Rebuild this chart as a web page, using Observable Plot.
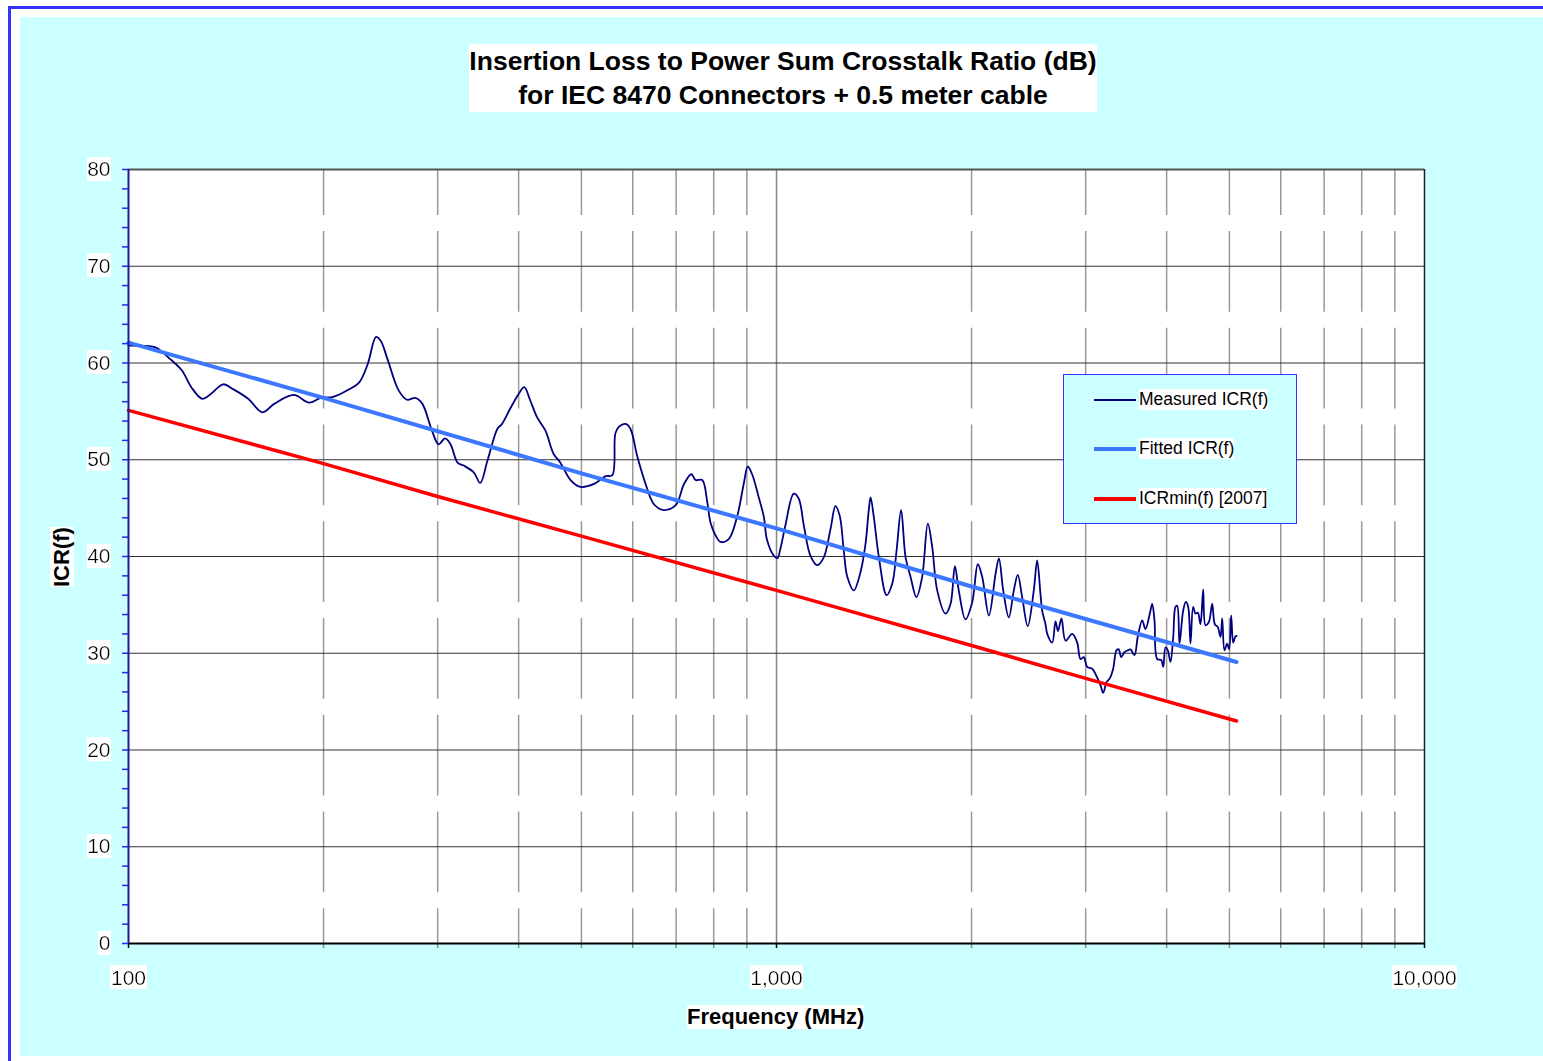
<!DOCTYPE html>
<html><head><meta charset="utf-8">
<script src="https://cdn.jsdelivr.net/npm/d3@7"></script>
<script src="https://cdn.jsdelivr.net/npm/@observablehq/plot@0.6"></script>
<style>
body{margin:0;background:#fff;font-family:"Liberation Sans",Arial,sans-serif;}
#wrap{position:relative;width:1543px;height:1061px;overflow:hidden;background:#fff;}
#border{position:absolute;left:8px;top:6px;width:1700px;height:1200px;border:3px solid #3333ff;box-sizing:border-box;}
#bgc{position:absolute;left:20px;top:17px;width:1700px;height:1039px;background:#ccffff;}
#title{position:absolute;left:469px;top:44px;width:628px;height:68px;background:#fff;text-align:center;font-weight:bold;font-size:26.5px;line-height:34px;color:#000;}
#chart{position:absolute;left:0;top:0;}
.axt{position:absolute;background:#fff;font-weight:bold;font-size:22px;line-height:24px;white-space:nowrap;color:#000;}
#legend{position:absolute;left:1063px;top:374px;width:234px;height:150px;background:#ccffff;border:1.5px solid #3333ff;box-sizing:border-box;}
.lg{position:absolute;left:0;width:100%;height:24px;}
.lg .sw{position:absolute;left:30px;width:42px;top:50%;}
.lg .tx{position:absolute;left:75px;top:1px;font-size:17.5px;line-height:21px;background:#fff;white-space:nowrap;color:#000;}
</style></head>
<body>
<div id="wrap">
  <div id="border"></div>
  <div id="bgc"></div>
  <div id="chart"></div>
  <div id="title">Insertion Loss to Power Sum Crosstalk Ratio (dB)<br>for IEC 8470 Connectors + 0.5 meter cable</div>
  <div class="axt" id="ylab" style="left:32px;top:545px;transform:rotate(-90deg);transform-origin:30px 12px;">ICR(f)</div>
  <div class="axt" id="xlab" style="left:687px;top:1005px;">Frequency (MHz)</div>
  <div id="legend"></div>
</div>
<script>
// ---- data ----
const freqMeasured = [100,109,111,116,121,125,130,134,140,145,153,161,168,180,190,198,207,218,227,234,241,245,251,261,269,277,284,294,301,308,314,322,329,341,349,358,371,377,389,400,408,417,427,440,453,464,481,498,523,545,558,564,571,585,595,610,628,647,670,699,720,739,750,768,782,791,805,820,844,870,890,903,917,939,956,967,990,1003,1014,1032,1063,1082,1102,1128,1156,1183,1212,1233,1252,1270,1286,1316,1348,1372,1388,1397,1413,1439,1479,1509,1532,1557,1582,1610,1644,1678,1712,1739,1770,1823,1856,1885,1911,1957,2005,2045,2077,2127,2178,2204,2238,2283,2324,2357,2394,2442,2495,2525,2555,2570,2601,2617,2664,2695,2719,2753,2793,2860,2911,2945,2980,3016,3070,3125,3162,3193,3230,3268,3308,3347,3374,3403,3443,3484,3518,3568,3610,3667,3710,3768,3800,3831,3868,3924,3952,3984,4017,4055,4095,4128,4153,4187,4242,4282,4318,4354,4395,4432,4469,4511,4555,4592,4646,4703,4747,4797,4844,4873,4913,4960,4996,5031,5067,5104,5128];
const icrMeasured = [61.8,61.7,61.5,60.4,59.2,57.5,56.3,56.8,57.8,57.3,56.3,54.9,55.8,56.7,55.9,56.4,56.5,57.2,58.0,59.9,62.7,62.3,60.4,57.2,56.2,56.4,55.8,53.0,51.6,52.2,51.6,49.7,49.4,48.7,47.6,49.9,53.2,53.7,55.4,56.8,57.5,56.1,54.4,53.0,50.6,49.7,47.9,47.2,47.5,48.3,48.4,52.7,53.4,53.7,53.2,50.3,47.5,45.4,44.8,45.3,47.5,48.5,47.9,47.9,45.6,43.5,42.2,41.5,41.8,44.2,47.5,49.3,48.5,46.1,44.1,41.7,40.1,39.8,40.8,43.2,46.5,46.0,43.2,40.1,39.1,39.9,42.9,45.2,44.2,40.6,37.9,36.5,38.4,41.3,44.8,46.1,44.1,39.9,36.0,37.2,40.6,44.8,39.9,37.9,35.8,37.9,43.4,41.0,36.5,34.1,35.1,39.0,36.5,33.5,35.3,39.2,37.9,33.9,38.2,39.8,36.5,33.7,36.5,38.1,35.8,32.8,36.5,39.6,36.1,34.4,33.0,32.0,31.1,33.3,32.3,33.6,31.3,32.0,31.1,29.4,29.6,28.6,28.4,27.5,26.7,25.9,27.0,27.4,28.4,30.3,30.4,29.6,30.1,30.3,30.4,29.8,31.7,33.4,32.5,34.1,35.1,33.4,29.4,29.3,28.6,30.6,30.3,29.1,31.7,34.8,34.9,31.0,34.4,35.3,34.8,31.0,34.8,34.1,34.2,33.0,36.6,32.9,33.2,35.1,33.0,32.7,31.7,33.6,30.3,31.0,30.4,33.9,31.1,31.7,31.8];
const freqFitted = [100,200,500,1000,2000,5128];
const icrFitted  = [62.1,56.4,48.6,42.9,36.9,29.1];
const freqMin = [100,200,300,500,1000,2000,3000,5128];
const icrMin  = [55.1,49.6,46.2,42.1,36.5,30.8,27.4,23.0];
const seriesNames = ["Measured ICR(f)","Fitted ICR(f)","ICRmin(f) [2007]"];
const yMajorTicks = [0,10,20,30,40,50,60,70,80];
const yMinorTicks = [0,2,4,6,8,10,12,14,16,18,20,22,24,26,28,30,32,34,36,38,40,42,44,46,48,50,52,54,56,58,60,62,64,66,68,70,72,74,76,78,80];
const xMajorTicks = [100,1000,10000];
const xMinorTicks = [200,300,400,500,600,700,800,900,2000,3000,4000,5000,6000,7000,8000,9000];

const colors = ["#000080","#3b78ff","#ff0000"];
const widths = [1.8,4,3.5];

const measured = freqMeasured.map((f,i)=>({f, v: icrMeasured[i]}));
const fitted = freqFitted.map((f,i)=>({f, v: icrFitted[i]}));
const minimum = freqMin.map((f,i)=>({f, v: icrMin[i]}));

const chart = Plot.plot({
  width: 1543, height: 1061,
  marginLeft: 128, marginRight: 119, marginTop: 169, marginBottom: 118,
  style: {background: "transparent", fontFamily: "'Liberation Sans', Arial, sans-serif", fontSize: "21px", color: "#000", overflow: "visible"},
  x: {type: "log", domain: [100, 10000]},
  y: {domain: [0, 80]},
  marks: [
    Plot.frame({fill: "white", stroke: null}),
    Plot.ruleX(xMinorTicks, {stroke: "#999", strokeWidth: 1.5, strokeDasharray: "80.75 16", strokeDashoffset: 34.75}),
    Plot.ruleX([1000], {stroke: "#888", strokeWidth: 1.5}),
    Plot.ruleY(yMajorTicks.filter(d => d > 0 && d < 80), {stroke: "#333", strokeWidth: 1.2}),
    Plot.ruleY([80], {stroke: "#555", strokeWidth: 2}),
    Plot.ruleX([10000], {stroke: "#222", strokeWidth: 1.5}),
    Plot.line(measured, {x: "f", y: "v", stroke: colors[0], strokeWidth: widths[0], curve: "catmull-rom"}),
    Plot.line(fitted, {x: "f", y: "v", stroke: colors[1], strokeWidth: widths[1]}),
    Plot.line(minimum, {x: "f", y: "v", stroke: colors[2], strokeWidth: widths[2]}),
    Plot.axisX({ticks: xMinorTicks, tickFormat: () => "", tickSize: 5, stroke: "#888", strokeWidth: 1.5, label: null}),
    Plot.axisX({ticks: xMajorTicks, tickFormat: d3.format(","), tickSize: 5, tickPadding: 21.5, stroke: "#000", fill: "#000", strokeWidth: 1.5, fontSize: 21, label: null}),
    Plot.axisY({ticks: yMinorTicks, tickFormat: d => (d % 10 === 0 ? String(d) : ""), tickSize: 6, tickPadding: 12, stroke: "#2a2aee", fill: "#000", strokeWidth: 1.5, fontSize: 21, label: null}),
    Plot.ruleY([0], {stroke: "#000", strokeWidth: 2}),
    Plot.ruleX([100], {stroke: "#1a1aa0", strokeWidth: 2})
  ]
});
document.getElementById("chart").appendChild(chart);

// white box behind tick labels (as in the original)
const svg = d3.select(chart);
const defs = svg.insert("defs", ":first-child");
const flt = defs.append("filter").attr("id", "whitebg").attr("x", 0).attr("y", 0).attr("width", 1).attr("height", 1);
flt.append("feFlood").attr("flood-color", "white");
flt.append("feComposite").attr("in", "SourceGraphic").attr("operator", "over");
svg.selectAll('g[aria-label$="tick label"] text').attr("filter", "url(#whitebg)").attr("fill", "#000");

// legend
const legend = document.getElementById("legend");
const tops = [13, 62, 112];
seriesNames.forEach((name, i) => {
  const row = document.createElement("div");
  row.className = "lg";
  row.style.top = tops[i] + "px";
  const sw = document.createElement("div");
  sw.className = "sw";
  sw.style.height = widths[i] + "px";
  sw.style.marginTop = (-widths[i] / 2) + "px";
  sw.style.background = colors[i];
  const tx = document.createElement("span");
  tx.className = "tx";
  tx.textContent = name;
  row.appendChild(sw); row.appendChild(tx);
  legend.appendChild(row);
});
</script>
</body></html>
